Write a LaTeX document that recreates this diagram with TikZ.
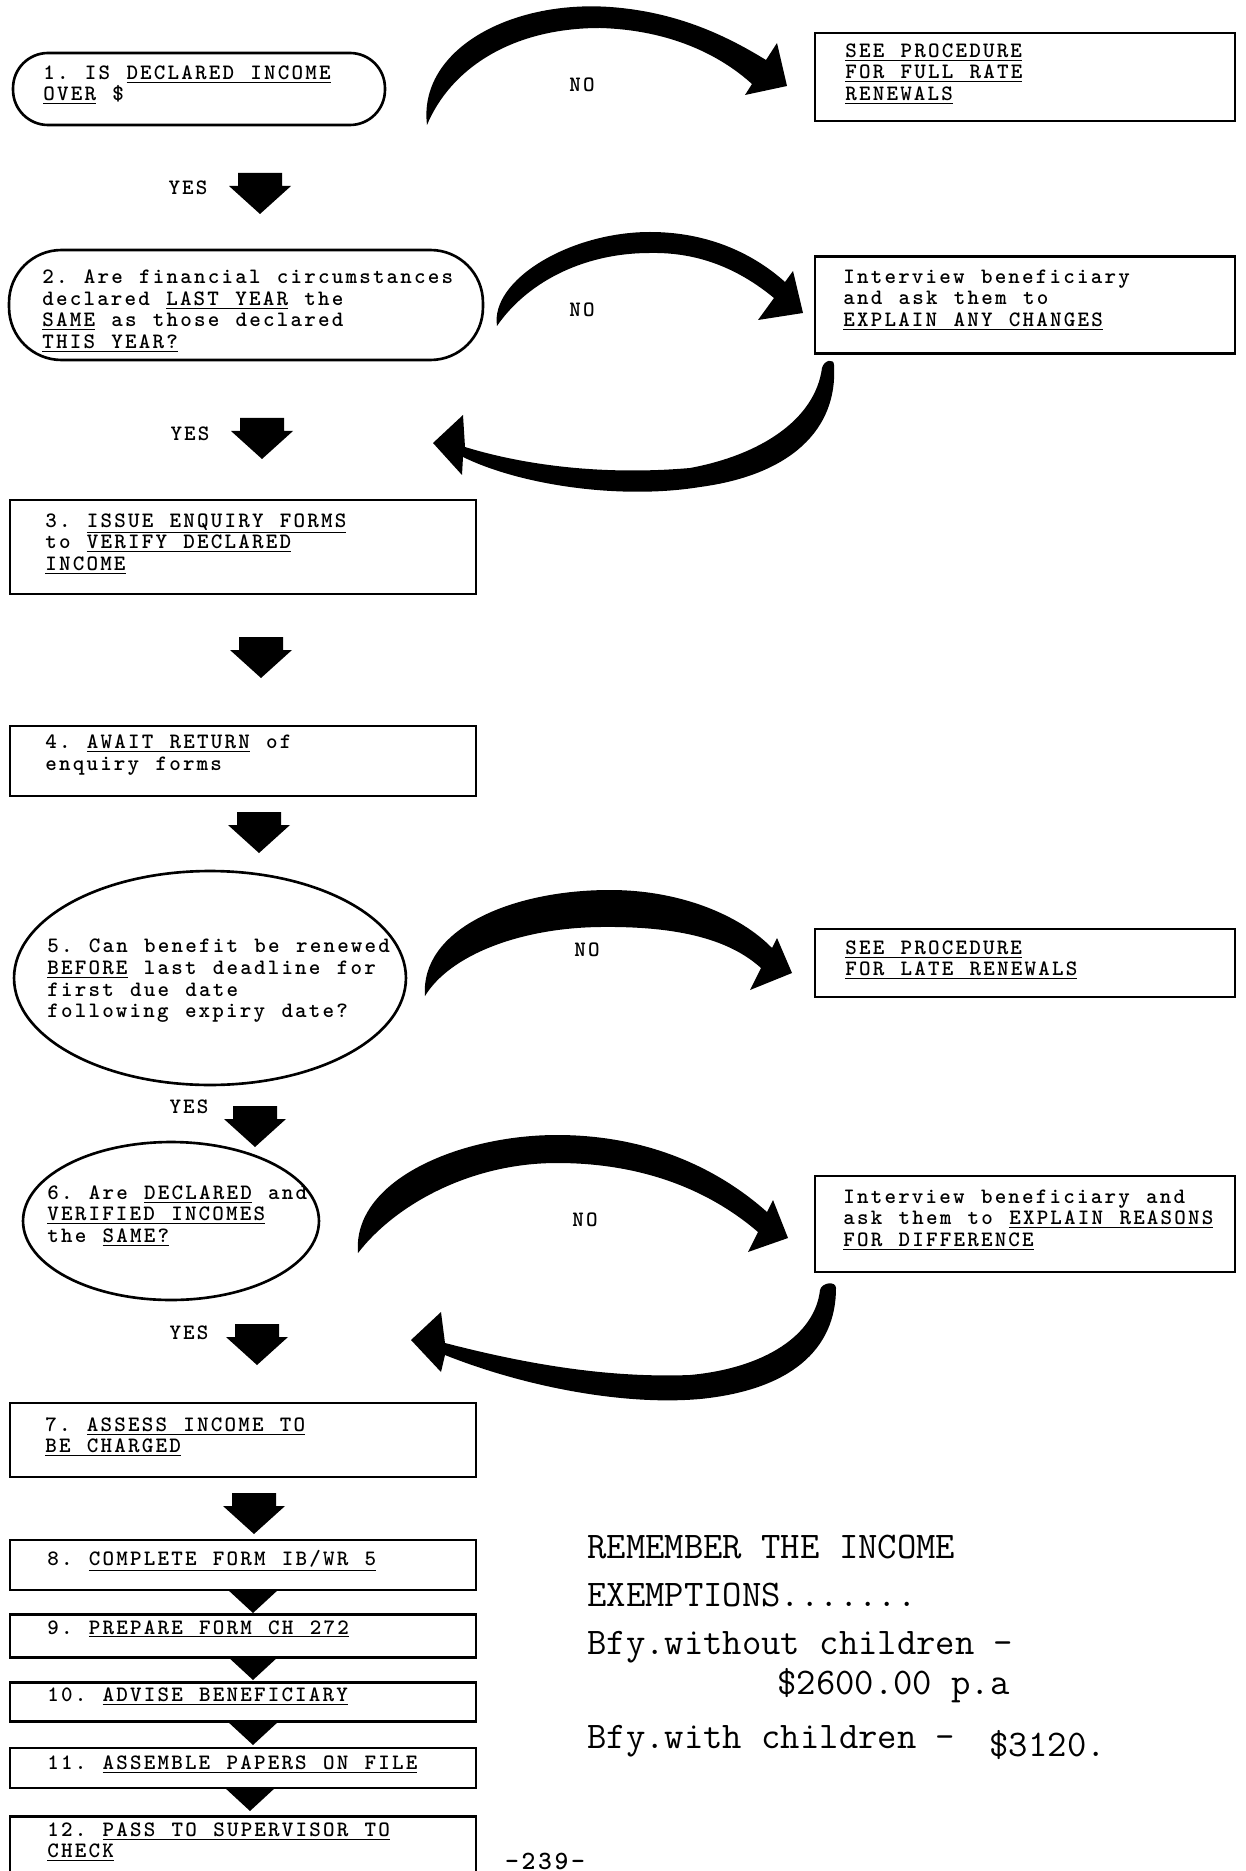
\documentclass[tikz,border=0pt]{standalone}
\usepackage{fontspec}
\usepackage{tikz}
\usetikzlibrary{shapes.geometric}

\newfontfamily\typer[LetterSpace=10,WordSpace=1.19]{lmmonolt10-bold.otf}
\newcommand{\boxfont}{\fontsize{12.5pt}{12.3pt}\selectfont\typer\frenchspacing}
\newcommand{\notefont}{\fontsize{21.4pt}{27.3pt}\selectfont\ttfamily\frenchspacing}

\tikzset{
	lbox/.style={draw,line width=1.5pt,minimum width=9.32cm},
	rbox/.style={draw,line width=1.5pt,minimum width=8.4cm},
	oval/.style={draw,ellipse,line width=1.5pt,inner sep=0pt},
	pill/.style={draw,rectangle,line width=1.5pt,inner sep=0pt},
	typed/.style={align=left,font=\boxfont,inner sep=0pt,anchor=west},
	answer/.style={font=\boxfont,inner sep=0pt},
	droparrow/.pic={\fill (-22,0) -- (22,0) -- (22,13) -- (31,13) -- (0,41) -- (-31,13) -- (-22,13) -- cycle;},
	droptri/.pic={\fill (-26,0) -- (26,0) -- (0,24) -- cycle;}
}

\begin{document}
\begin{tikzpicture}[x=0.02cm,y=-0.02cm]
			\useasboundingbox (0,0) rectangle (1245,1871);
			\clip (0,0) rectangle (1245,1871);
			\fill[white] (0,0) rectangle (1245,1871);

			\node[pill,rounded corners=0.7cm,minimum width=7.44cm,minimum height=1.44cm](1)at(199,89) {};
			\node[typed](1t)at(43,85) {1. IS \underline{DECLARED INCOME}\\\underline{OVER} \$};
			\node[pill,rounded corners=1.05cm,minimum width=9.48cm,minimum height=2.2cm](2)at(246,305) {};
			\node[typed](2t)at(42,311) {2. Are financial circumstances\\declared \underline{LAST YEAR} the\\\underline{SAME} as those declared\\\underline{THIS YEAR?}};
			\node[lbox,minimum height=1.88cm](3)at(243,547) {};
			\node[typed](3t)at(45,544) {3. \underline{ISSUE ENQUIRY FORMS}\\to \underline{VERIFY DECLARED}\\\underline{INCOME}};
			\node[lbox,minimum height=1.4cm](4)at(243,761) {};
			\node[typed](4t)at(45,755) {4. \underline{AWAIT RETURN} of\\enquiry forms};
			\node[oval,minimum width=7.84cm,minimum height=4.28cm](5)at(210,978) {};
			\node[typed](5t)at(47,981) {5. Can benefit be renewed\\\underline{BEFORE} last deadline for\\first due date\\following expiry date?};
			\node[oval,minimum width=5.92cm,minimum height=3.16cm](6)at(171,1221) {};
			\node[typed](6t)at(47,1216) {6. Are \underline{DECLARED} and\\\underline{VERIFIED INCOMES}\\the \underline{SAME?}};
			\node[lbox,minimum height=1.48cm](7)at(243,1440) {};
			\node[typed](7t)at(45,1437) {7. \underline{ASSESS INCOME TO}\\\underline{BE CHARGED}};
			\node[lbox,minimum height=1.0cm](8)at(243,1565) {};
			\node[typed](8t)at(47,1561) {8. \underline{COMPLETE FORM IB/WR 5}};
			\node[lbox,minimum height=0.86cm](9)at(243,1636) {};
			\node[typed](9t)at(47,1629) {9. \underline{PREPARE FORM CH 272}};
			\node[lbox,minimum height=0.78cm](10)at(243,1702) {};
			\node[typed](10t)at(47,1697) {10. \underline{ADVISE BENEFICIARY}};
			\node[lbox,minimum height=0.8cm](11)at(243,1768) {};
			\node[typed](11t)at(47,1765) {11. \underline{ASSEMBLE PAPERS ON FILE}};
			\node[lbox,anchor=north,minimum height=2cm](12)at(243,1815) {};
			\node[typed](12t)at(47,1842) {12. \underline{PASS TO SUPERVISOR TO}\\\underline{CHECK}};

			\node[rbox,minimum height=1.76cm](1r)at(1025,77) {};
			\node[typed](1rt)at(845,74) {\underline{SEE PROCEDURE}\\\underline{FOR FULL RATE}\\\underline{RENEWALS}};
			\node[rbox,minimum height=1.94cm](2r)at(1025,305) {};
			\node[typed](2rt)at(843,300) {Interview beneficiary\\and ask them to\\\underline{EXPLAIN ANY CHANGES}};
			\node[rbox,minimum height=1.36cm](5r)at(1025,963) {};
			\node[typed](5rt)at(845,960) {\underline{SEE PROCEDURE}\\\underline{FOR LATE RENEWALS}};
			\node[rbox,minimum height=1.92cm](6r)at(1025,1224) {};
			\node[typed](6rt)at(843,1220) {Interview beneficiary and\\ask them to \underline{EXPLAIN REASONS}\\\underline{FOR DIFFERENCE}};

			\node[answer](yes1)at(188,188) {YES};
			\node[answer](yes2)at(190,434) {YES};
			\node[answer](yes5)at(189,1107) {YES};
			\node[answer](yes6)at(189,1333) {YES};
			\node[answer](no1)at(582,85) {NO};
			\node[answer](no2)at(582,310) {NO};
			\node[answer](no5)at(587,950) {NO};
			\node[answer](no6)at(585,1220) {NO};

			\pic at (260,173) {droparrow};
			\pic at (262,418) {droparrow};
			\pic at (261,637) {droparrow};
			\pic at (259,812) {droparrow};
			\pic at (255,1106) {droparrow};
			\pic at (257,1324) {droparrow};
			\pic at (254,1493) {droparrow};
			\pic at (253,1589) {droptri};
			\pic at (253,1656) {droptri};
			\pic at (253,1721) {droptri};
			\pic at (250,1787) {droptri};

			\fill (427,125) .. controls (418,50) and (510,0) .. (610,7) .. controls (680,12) and (730,38) .. (766,60) -- (777,43) -- (787,86) -- (745,95) -- (752,84) .. controls (720,55) and (670,30) .. (600,28) .. controls (510,28) and (450,70) .. cycle;
			\fill (497,326) .. controls (490,280) and (570,232) .. (650,232) .. controls (710,232) and (755,255) .. (785,282) -- (793,271) -- (803,313) -- (758,320) -- (774,298) .. controls (740,270) and (700,252) .. (650,253) .. controls (580,253) and (525,285) .. cycle;
			\fill (425,996) .. controls (420,930) and (510,890) .. (610,890) .. controls (680,890) and (740,915) .. (772,948) -- (777,938) -- (792,973) -- (750,990) -- (761,968) .. controls (730,940) and (680,926) .. (600,927) .. controls (520,928) and (450,955) .. cycle;
			\fill (358,1253) .. controls (352,1180) and (460,1135) .. (557,1135) .. controls (650,1135) and (720,1170) .. (767,1212) -- (773,1200) -- (788,1238) -- (748,1252) -- (758,1232) .. controls (715,1195) and (650,1163) .. (557,1163) .. controls (470,1163) and (395,1205) .. cycle;

			\fill (834,365) .. controls (838,430) and (790,475) .. (700,487) .. controls (620,500) and (520,485) .. (463,457) -- (462,475) -- (433,443) -- (463,415) -- (465,447) .. controls (530,467) and (610,475) .. (690,468) .. controls (760,455) and (815,420) .. (822,368) .. controls (824,360) and (834,358) .. cycle;
			\fill (836,1288) .. controls (836,1350) and (790,1390) .. (700,1399) .. controls (620,1406) and (520,1385) .. (445,1355) -- (441,1372) -- (411,1340) -- (441,1312) -- (445,1343) .. controls (530,1365) and (610,1378) .. (690,1375) .. controls (765,1368) and (815,1335) .. (820,1290) .. controls (822,1282) and (836,1281) .. cycle;

			\node[align=left,font=\notefont,inner sep=0pt,anchor=north west](memo)at(587,1535) {REMEMBER THE INCOME\\EXEMPTIONS.......\\Bfy.without children -\\[-4.5pt]\hspace*{3.8cm}\$2600.00 p.a\\[3pt]Bfy.with children - \hspace{0.3cm}\raisebox{-5pt}{\$3120.}};
			\node[font=\fontsize{15pt}{15pt}\selectfont\typer,inner sep=0pt,anchor=north](page)at(545,1853) {-239-};
		\end{tikzpicture}
\end{document}
